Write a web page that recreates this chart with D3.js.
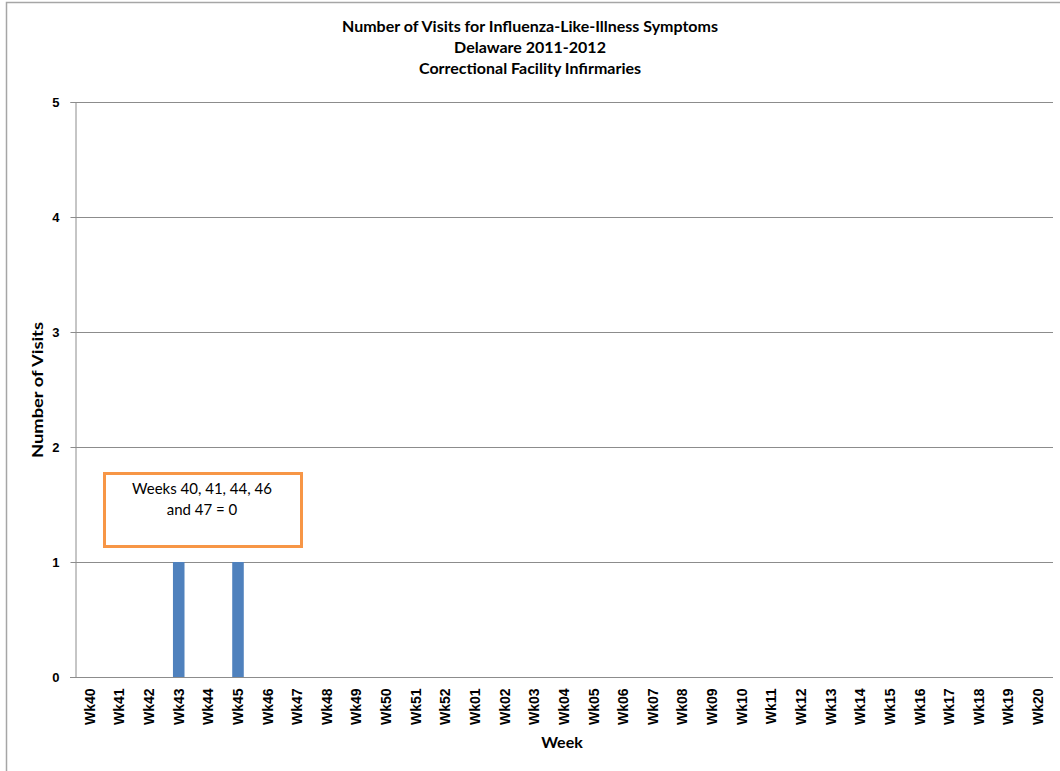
<!DOCTYPE html>
<html>
<head>
<meta charset="utf-8">
<script src="https://cdn.jsdelivr.net/npm/d3@7"></script>
<style>
  body { margin: 0; background: #fff; }
  svg { display: block; }
</style>
</head>
<body>
<div id="chart"></div>
<script>
// weeks of the 2011-2012 season
const weeks = ['Wk40', 'Wk41', 'Wk42', 'Wk43', 'Wk44', 'Wk45', 'Wk46', 'Wk47', 'Wk48', 'Wk49',
  'Wk50', 'Wk51', 'Wk52', 'Wk01', 'Wk02', 'Wk03', 'Wk04', 'Wk05', 'Wk06', 'Wk07', 'Wk08',
  'Wk09', 'Wk10', 'Wk11', 'Wk12', 'Wk13', 'Wk14', 'Wk15', 'Wk16', 'Wk17', 'Wk18', 'Wk19', 'Wk20']
// visits per week (only weeks with a bar)
const visits = [0, 0, null, 1, 0, 1, 0, 0]
const yTicks = [0, 1, 2, 3, 4, 5]
const titleLines = ['Number of Visits for Influenza-Like-Illness Symptoms', 'Delaware 2011-2012', 'Correctional Facility Infirmaries']
const noteLines = ['Weeks 40, 41, 44, 46', 'and 47 = 0']

const W = 1060, H = 771
const margin = { left: 75, right: 1053, top: 102, bottom: 677 }

const svg = d3.select('#chart').append('svg')
  .attr('width', W)
  .attr('height', H)

// outer chart border (cropped at right/bottom)
svg.append('path')
  .attr('d', `M6.5,${H} V2.5 H${W}`)
  .attr('fill', 'none')
  .attr('stroke', '#a6a6a6')
  .attr('stroke-width', 1.5)

const x = d3.scaleBand()
  .domain(weeks)
  .range([margin.left, margin.right])
  .paddingInner(0.61)
  .paddingOuter(0.305)

const xCat = d3.scaleBand()
  .domain(weeks)
  .range([margin.left, margin.right])

const y = d3.scaleLinear()
  .domain([0, 5])
  .range([margin.bottom, margin.top])

// gridlines
svg.append('g')
  .selectAll('line')
  .data(yTicks.filter(d => d > 0))
  .join('line')
  .attr('x1', margin.left)
  .attr('x2', margin.right)
  .attr('y1', d => Math.round(y(d)) + 0.5)
  .attr('y2', d => Math.round(y(d)) + 0.5)
  .attr('stroke', '#8c8c8c')
  .attr('stroke-width', 1)

// y axis
const yAxis = svg.append('g')
  .attr('transform', `translate(${margin.left + 0.5},0)`)
  .call(d3.axisLeft(y).tickValues(yTicks).tickSize(5).tickPadding(11).tickFormat(d3.format('d')))
yAxis.select('.domain').attr('stroke', '#8c8c8c')
yAxis.selectAll('.tick line').attr('stroke', '#8c8c8c')
yAxis.selectAll('.tick').attr('transform', d => `translate(0,${Math.round(y(d)) + 0.5})`)
yAxis.selectAll('text')
  .attr('font-family', 'Liberation Sans, Arial, sans-serif')
  .attr('font-weight', 'bold')
  .attr('font-size', '13px')
  .attr('fill', '#000')

// x axis
const xAxis = svg.append('g')
  .attr('transform', `translate(0,${Math.round(y(0)) + 0.5})`)
  .call(d3.axisBottom(xCat).tickSize(0).tickPadding(0))
xAxis.select('.domain').attr('stroke', '#8c8c8c').attr('d', `M${margin.left - 5},0H${margin.right}`)
xAxis.selectAll('text')
  .attr('font-family', 'Liberation Sans, Arial, sans-serif')
  .attr('font-weight', 'bold')
  .attr('font-size', '14px')
  .attr('fill', '#000')
  .attr('transform', 'rotate(-90)')
  .attr('text-anchor', 'end')
  .attr('x', -11)
  .attr('y', 0)
  .attr('dy', '0.35em')

// bars
svg.append('g')
  .selectAll('rect')
  .data(visits.map((v, i) => ({ week: weeks[i], v })).filter(d => d.v > 0))
  .join('rect')
  .attr('x', d => x(d.week))
  .attr('width', x.bandwidth())
  .attr('y', d => y(d.v))
  .attr('height', d => y(0) - y(d.v))
  .attr('fill', '#4f81bd')

// title
svg.append('g')
  .selectAll('text')
  .data(titleLines)
  .join('text')
  .attr('x', 530)
  .attr('y', (d, i) => 32 + i * 21)
  .attr('text-anchor', 'middle')
  .attr('font-family', 'Lato, sans-serif')
  .attr('font-weight', 'bold')
  .attr('font-size', '16px')
  .attr('fill', '#000')
  .text(d => d)

// axis titles
svg.append('text')
  .attr('transform', 'translate(43,390) rotate(-90)')
  .attr('text-anchor', 'middle')
  .attr('font-family', 'Lato, sans-serif')
  .attr('font-weight', 'bold')
  .attr('font-size', '16px')
  .attr('textLength', 136)
  .attr('lengthAdjust', 'spacingAndGlyphs')
  .text('Number of Visits')

svg.append('text')
  .attr('x', 562)
  .attr('y', 748)
  .attr('text-anchor', 'middle')
  .attr('font-family', 'Lato, sans-serif')
  .attr('font-weight', 'bold')
  .attr('font-size', '16px')
  .text('Week')

// note box
const note = svg.append('g')
note.append('rect')
  .attr('x', 104.5)
  .attr('y', 473.5)
  .attr('width', 197)
  .attr('height', 73)
  .attr('fill', '#fff')
  .attr('stroke', '#f79646')
  .attr('stroke-width', 3)
note.selectAll('text')
  .data(noteLines)
  .join('text')
  .attr('x', 202)
  .attr('y', (d, i) => 494 + i * 21)
  .attr('text-anchor', 'middle')
  .attr('font-family', 'Lato, sans-serif')
  .attr('font-size', '15px')
  .attr('fill', '#000')
  .text(d => d)
</script>
</body>
</html>
